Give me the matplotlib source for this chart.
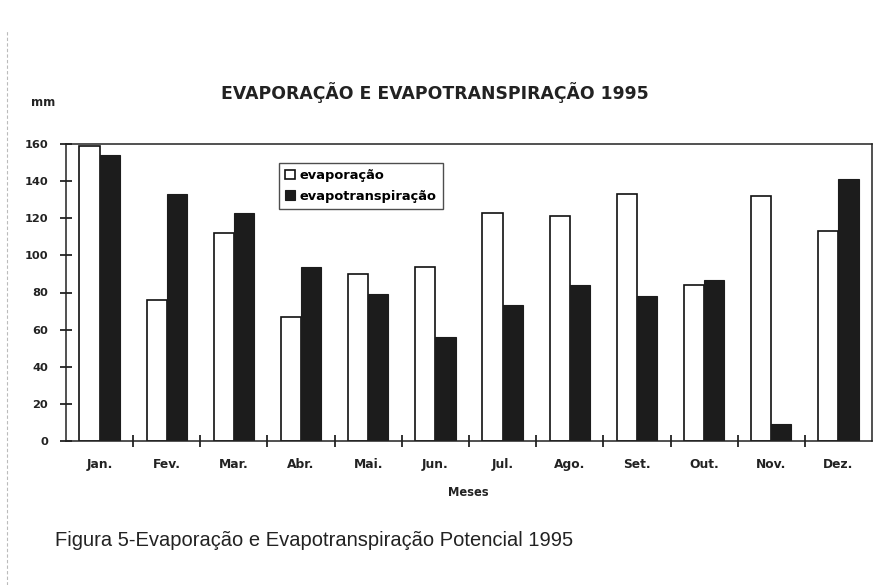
import matplotlib
matplotlib.use("Agg")
import matplotlib.pyplot as plt
import numpy as np

months = ["Jan.", "Fev.", "Mar.", "Abr.", "Mai.", "Jun.", "Jul.", "Ago.", "Set.", "Out.", "Nov.", "Dez."]
evaporacao = [159, 76, 112, 67, 90, 94, 123, 121, 133, 84, 132, 113]
evapotranspiracao = [154, 133, 123, 94, 79, 56, 73, 84, 78, 87, 9, 141]
yticks = [0, 20, 40, 60, 80, 100, 120, 140, 160]

plt.rcParams['font.family'] = ['DejaVu Sans']

fig = plt.figure(figsize=(8.77, 5.85), dpi=100)
W, H = 877, 585
left, right, top, bottom = 66, 872, 144, 441
ax = fig.add_axes([left / W, 1 - bottom / H, (right - left) / W, (bottom - top) / H])

x = np.arange(len(months))
bw = 0.3
ax.bar(x - bw / 2, evaporacao, bw, color='white', edgecolor='#111111', linewidth=1.2, label='evaporação')
ax.bar(x + bw / 2, evapotranspiracao, bw, color='#1c1c1c', edgecolor='#1c1c1c', linewidth=0.8, label='evapotranspiração')

ax.set_xlim(-0.5, len(months) - 0.5)
ax.set_ylim(0, 160)
ax.set_yticks(yticks)
ax.set_yticklabels([str(v) for v in yticks], fontsize=8.2, fontweight='bold', color='#222222')
ax.set_xticks(x)
ax.set_xticklabels(months, fontsize=8.8, fontweight='bold', color='#222222')
ax.tick_params(axis='x', which='major', length=0, pad=12)
ax.set_xticks(np.arange(0.5, len(months) - 0.5, 1), minor=True)
ax.tick_params(axis='x', which='minor', length=8, direction='inout', width=1.2, color='#111111')
ax.tick_params(axis='y', length=8, direction='inout', width=1.2, color='#111111', pad=9)
for s in ax.spines.values():
    s.set_linewidth(1.1)
    s.set_color('#222222')

leg = ax.legend(loc='upper left', bbox_to_anchor=((279 - left) / (right - left), 1 - (163 - top) / (bottom - top)),
                prop={'weight': 'bold', 'size': 9.4}, frameon=True, fancybox=False,
                edgecolor='#222222', handlelength=0.75, handleheight=0.75, handletextpad=0.4,
                borderpad=0.45, labelspacing=0.6, borderaxespad=0)
leg.get_frame().set_linewidth(1.0)

fig.text(435 / W, 1 - 93 / H, "EVAPORAÇÃO E EVAPOTRANSPIRAÇÃO 1995", ha='center', va='center',
         fontsize=12.4, fontweight='bold', color='#222222')
fig.text(31 / W, 1 - 103 / H, "mm", ha='left', va='center', fontsize=8.5, fontweight='bold', color='#222222')
fig.text(468 / W, 1 - 492 / H, "Meses", ha='center', va='center', fontsize=8.3, fontweight='bold', color='#222222')
fig.text(55 / W, 1 - 540 / H, "Figura 5-Evaporação e Evapotranspiração Potencial 1995", ha='left', va='center',
         fontsize=14.5, color='#222222', family=['Liberation Sans', 'DejaVu Sans'])

# faint scan border line
fig.add_artist(plt.Line2D([7 / W, 7 / W], [0, 1 - 30 / H], color='#bbbbbb', linewidth=0.8, linestyle=(0, (3, 2))))

fig.savefig("out.png", dpi=100)
